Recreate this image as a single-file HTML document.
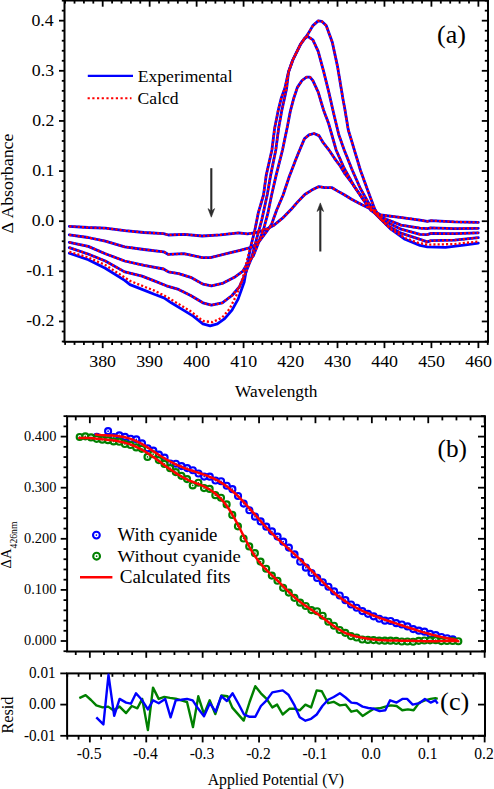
<!DOCTYPE html>
<html><head><meta charset="utf-8"><style>
html,body{margin:0;padding:0;background:#fff;}
body{width:494px;height:789px;overflow:hidden;}
svg{display:block;font-family:"Liberation Serif",serif;}
text{font-family:"Liberation Serif",serif;}
</style></head><body>
<svg width="494" height="789" viewBox="0 0 494 789" fill="#000">
<rect x="64.5" y="0.5" width="423.50" height="341.30" fill="none" stroke="#000" stroke-width="2"/>
<line x1="65.13" y1="341.80" x2="65.13" y2="344.90" stroke="#000" stroke-width="1.8" />
<line x1="65.13" y1="0.50" x2="65.13" y2="3.60" stroke="#000" stroke-width="1.8" />
<line x1="74.52" y1="341.80" x2="74.52" y2="344.90" stroke="#000" stroke-width="1.8" />
<line x1="74.52" y1="0.50" x2="74.52" y2="3.60" stroke="#000" stroke-width="1.8" />
<line x1="83.92" y1="341.80" x2="83.92" y2="344.90" stroke="#000" stroke-width="1.8" />
<line x1="83.92" y1="0.50" x2="83.92" y2="3.60" stroke="#000" stroke-width="1.8" />
<line x1="93.31" y1="341.80" x2="93.31" y2="344.90" stroke="#000" stroke-width="1.8" />
<line x1="93.31" y1="0.50" x2="93.31" y2="3.60" stroke="#000" stroke-width="1.8" />
<line x1="102.70" y1="341.80" x2="102.70" y2="348.10" stroke="#000" stroke-width="1.8" />
<line x1="102.70" y1="0.50" x2="102.70" y2="6.70" stroke="#000" stroke-width="1.8" />
<line x1="112.09" y1="341.80" x2="112.09" y2="344.90" stroke="#000" stroke-width="1.8" />
<line x1="112.09" y1="0.50" x2="112.09" y2="3.60" stroke="#000" stroke-width="1.8" />
<line x1="121.48" y1="341.80" x2="121.48" y2="344.90" stroke="#000" stroke-width="1.8" />
<line x1="121.48" y1="0.50" x2="121.48" y2="3.60" stroke="#000" stroke-width="1.8" />
<line x1="130.88" y1="341.80" x2="130.88" y2="344.90" stroke="#000" stroke-width="1.8" />
<line x1="130.88" y1="0.50" x2="130.88" y2="3.60" stroke="#000" stroke-width="1.8" />
<line x1="140.27" y1="341.80" x2="140.27" y2="344.90" stroke="#000" stroke-width="1.8" />
<line x1="140.27" y1="0.50" x2="140.27" y2="3.60" stroke="#000" stroke-width="1.8" />
<line x1="149.66" y1="341.80" x2="149.66" y2="348.10" stroke="#000" stroke-width="1.8" />
<line x1="149.66" y1="0.50" x2="149.66" y2="6.70" stroke="#000" stroke-width="1.8" />
<line x1="159.05" y1="341.80" x2="159.05" y2="344.90" stroke="#000" stroke-width="1.8" />
<line x1="159.05" y1="0.50" x2="159.05" y2="3.60" stroke="#000" stroke-width="1.8" />
<line x1="168.44" y1="341.80" x2="168.44" y2="344.90" stroke="#000" stroke-width="1.8" />
<line x1="168.44" y1="0.50" x2="168.44" y2="3.60" stroke="#000" stroke-width="1.8" />
<line x1="177.84" y1="341.80" x2="177.84" y2="344.90" stroke="#000" stroke-width="1.8" />
<line x1="177.84" y1="0.50" x2="177.84" y2="3.60" stroke="#000" stroke-width="1.8" />
<line x1="187.23" y1="341.80" x2="187.23" y2="344.90" stroke="#000" stroke-width="1.8" />
<line x1="187.23" y1="0.50" x2="187.23" y2="3.60" stroke="#000" stroke-width="1.8" />
<line x1="196.62" y1="341.80" x2="196.62" y2="348.10" stroke="#000" stroke-width="1.8" />
<line x1="196.62" y1="0.50" x2="196.62" y2="6.70" stroke="#000" stroke-width="1.8" />
<line x1="206.01" y1="341.80" x2="206.01" y2="344.90" stroke="#000" stroke-width="1.8" />
<line x1="206.01" y1="0.50" x2="206.01" y2="3.60" stroke="#000" stroke-width="1.8" />
<line x1="215.40" y1="341.80" x2="215.40" y2="344.90" stroke="#000" stroke-width="1.8" />
<line x1="215.40" y1="0.50" x2="215.40" y2="3.60" stroke="#000" stroke-width="1.8" />
<line x1="224.80" y1="341.80" x2="224.80" y2="344.90" stroke="#000" stroke-width="1.8" />
<line x1="224.80" y1="0.50" x2="224.80" y2="3.60" stroke="#000" stroke-width="1.8" />
<line x1="234.19" y1="341.80" x2="234.19" y2="344.90" stroke="#000" stroke-width="1.8" />
<line x1="234.19" y1="0.50" x2="234.19" y2="3.60" stroke="#000" stroke-width="1.8" />
<line x1="243.58" y1="341.80" x2="243.58" y2="348.10" stroke="#000" stroke-width="1.8" />
<line x1="243.58" y1="0.50" x2="243.58" y2="6.70" stroke="#000" stroke-width="1.8" />
<line x1="252.97" y1="341.80" x2="252.97" y2="344.90" stroke="#000" stroke-width="1.8" />
<line x1="252.97" y1="0.50" x2="252.97" y2="3.60" stroke="#000" stroke-width="1.8" />
<line x1="262.36" y1="341.80" x2="262.36" y2="344.90" stroke="#000" stroke-width="1.8" />
<line x1="262.36" y1="0.50" x2="262.36" y2="3.60" stroke="#000" stroke-width="1.8" />
<line x1="271.76" y1="341.80" x2="271.76" y2="344.90" stroke="#000" stroke-width="1.8" />
<line x1="271.76" y1="0.50" x2="271.76" y2="3.60" stroke="#000" stroke-width="1.8" />
<line x1="281.15" y1="341.80" x2="281.15" y2="344.90" stroke="#000" stroke-width="1.8" />
<line x1="281.15" y1="0.50" x2="281.15" y2="3.60" stroke="#000" stroke-width="1.8" />
<line x1="290.54" y1="341.80" x2="290.54" y2="348.10" stroke="#000" stroke-width="1.8" />
<line x1="290.54" y1="0.50" x2="290.54" y2="6.70" stroke="#000" stroke-width="1.8" />
<line x1="299.93" y1="341.80" x2="299.93" y2="344.90" stroke="#000" stroke-width="1.8" />
<line x1="299.93" y1="0.50" x2="299.93" y2="3.60" stroke="#000" stroke-width="1.8" />
<line x1="309.32" y1="341.80" x2="309.32" y2="344.90" stroke="#000" stroke-width="1.8" />
<line x1="309.32" y1="0.50" x2="309.32" y2="3.60" stroke="#000" stroke-width="1.8" />
<line x1="318.72" y1="341.80" x2="318.72" y2="344.90" stroke="#000" stroke-width="1.8" />
<line x1="318.72" y1="0.50" x2="318.72" y2="3.60" stroke="#000" stroke-width="1.8" />
<line x1="328.11" y1="341.80" x2="328.11" y2="344.90" stroke="#000" stroke-width="1.8" />
<line x1="328.11" y1="0.50" x2="328.11" y2="3.60" stroke="#000" stroke-width="1.8" />
<line x1="337.50" y1="341.80" x2="337.50" y2="348.10" stroke="#000" stroke-width="1.8" />
<line x1="337.50" y1="0.50" x2="337.50" y2="6.70" stroke="#000" stroke-width="1.8" />
<line x1="346.89" y1="341.80" x2="346.89" y2="344.90" stroke="#000" stroke-width="1.8" />
<line x1="346.89" y1="0.50" x2="346.89" y2="3.60" stroke="#000" stroke-width="1.8" />
<line x1="356.28" y1="341.80" x2="356.28" y2="344.90" stroke="#000" stroke-width="1.8" />
<line x1="356.28" y1="0.50" x2="356.28" y2="3.60" stroke="#000" stroke-width="1.8" />
<line x1="365.68" y1="341.80" x2="365.68" y2="344.90" stroke="#000" stroke-width="1.8" />
<line x1="365.68" y1="0.50" x2="365.68" y2="3.60" stroke="#000" stroke-width="1.8" />
<line x1="375.07" y1="341.80" x2="375.07" y2="344.90" stroke="#000" stroke-width="1.8" />
<line x1="375.07" y1="0.50" x2="375.07" y2="3.60" stroke="#000" stroke-width="1.8" />
<line x1="384.46" y1="341.80" x2="384.46" y2="348.10" stroke="#000" stroke-width="1.8" />
<line x1="384.46" y1="0.50" x2="384.46" y2="6.70" stroke="#000" stroke-width="1.8" />
<line x1="393.85" y1="341.80" x2="393.85" y2="344.90" stroke="#000" stroke-width="1.8" />
<line x1="393.85" y1="0.50" x2="393.85" y2="3.60" stroke="#000" stroke-width="1.8" />
<line x1="403.24" y1="341.80" x2="403.24" y2="344.90" stroke="#000" stroke-width="1.8" />
<line x1="403.24" y1="0.50" x2="403.24" y2="3.60" stroke="#000" stroke-width="1.8" />
<line x1="412.64" y1="341.80" x2="412.64" y2="344.90" stroke="#000" stroke-width="1.8" />
<line x1="412.64" y1="0.50" x2="412.64" y2="3.60" stroke="#000" stroke-width="1.8" />
<line x1="422.03" y1="341.80" x2="422.03" y2="344.90" stroke="#000" stroke-width="1.8" />
<line x1="422.03" y1="0.50" x2="422.03" y2="3.60" stroke="#000" stroke-width="1.8" />
<line x1="431.42" y1="341.80" x2="431.42" y2="348.10" stroke="#000" stroke-width="1.8" />
<line x1="431.42" y1="0.50" x2="431.42" y2="6.70" stroke="#000" stroke-width="1.8" />
<line x1="440.81" y1="341.80" x2="440.81" y2="344.90" stroke="#000" stroke-width="1.8" />
<line x1="440.81" y1="0.50" x2="440.81" y2="3.60" stroke="#000" stroke-width="1.8" />
<line x1="450.20" y1="341.80" x2="450.20" y2="344.90" stroke="#000" stroke-width="1.8" />
<line x1="450.20" y1="0.50" x2="450.20" y2="3.60" stroke="#000" stroke-width="1.8" />
<line x1="459.60" y1="341.80" x2="459.60" y2="344.90" stroke="#000" stroke-width="1.8" />
<line x1="459.60" y1="0.50" x2="459.60" y2="3.60" stroke="#000" stroke-width="1.8" />
<line x1="468.99" y1="341.80" x2="468.99" y2="344.90" stroke="#000" stroke-width="1.8" />
<line x1="468.99" y1="0.50" x2="468.99" y2="3.60" stroke="#000" stroke-width="1.8" />
<line x1="478.38" y1="341.80" x2="478.38" y2="348.10" stroke="#000" stroke-width="1.8" />
<line x1="478.38" y1="0.50" x2="478.38" y2="6.70" stroke="#000" stroke-width="1.8" />
<line x1="487.77" y1="341.80" x2="487.77" y2="344.90" stroke="#000" stroke-width="1.8" />
<line x1="487.77" y1="0.50" x2="487.77" y2="3.60" stroke="#000" stroke-width="1.8" />
<line x1="64.50" y1="341.51" x2="61.80" y2="341.51" stroke="#000" stroke-width="1.8" />
<line x1="488.00" y1="341.51" x2="484.80" y2="341.51" stroke="#000" stroke-width="1.8" />
<line x1="64.50" y1="331.49" x2="61.80" y2="331.49" stroke="#000" stroke-width="1.8" />
<line x1="488.00" y1="331.49" x2="484.80" y2="331.49" stroke="#000" stroke-width="1.8" />
<line x1="64.50" y1="321.46" x2="59.00" y2="321.46" stroke="#000" stroke-width="1.8" />
<line x1="488.00" y1="321.46" x2="481.80" y2="321.46" stroke="#000" stroke-width="1.8" />
<line x1="64.50" y1="311.43" x2="61.80" y2="311.43" stroke="#000" stroke-width="1.8" />
<line x1="488.00" y1="311.43" x2="484.80" y2="311.43" stroke="#000" stroke-width="1.8" />
<line x1="64.50" y1="301.41" x2="61.80" y2="301.41" stroke="#000" stroke-width="1.8" />
<line x1="488.00" y1="301.41" x2="484.80" y2="301.41" stroke="#000" stroke-width="1.8" />
<line x1="64.50" y1="291.38" x2="61.80" y2="291.38" stroke="#000" stroke-width="1.8" />
<line x1="488.00" y1="291.38" x2="484.80" y2="291.38" stroke="#000" stroke-width="1.8" />
<line x1="64.50" y1="281.36" x2="61.80" y2="281.36" stroke="#000" stroke-width="1.8" />
<line x1="488.00" y1="281.36" x2="484.80" y2="281.36" stroke="#000" stroke-width="1.8" />
<line x1="64.50" y1="271.33" x2="59.00" y2="271.33" stroke="#000" stroke-width="1.8" />
<line x1="488.00" y1="271.33" x2="481.80" y2="271.33" stroke="#000" stroke-width="1.8" />
<line x1="64.50" y1="261.30" x2="61.80" y2="261.30" stroke="#000" stroke-width="1.8" />
<line x1="488.00" y1="261.30" x2="484.80" y2="261.30" stroke="#000" stroke-width="1.8" />
<line x1="64.50" y1="251.28" x2="61.80" y2="251.28" stroke="#000" stroke-width="1.8" />
<line x1="488.00" y1="251.28" x2="484.80" y2="251.28" stroke="#000" stroke-width="1.8" />
<line x1="64.50" y1="241.25" x2="61.80" y2="241.25" stroke="#000" stroke-width="1.8" />
<line x1="488.00" y1="241.25" x2="484.80" y2="241.25" stroke="#000" stroke-width="1.8" />
<line x1="64.50" y1="231.23" x2="61.80" y2="231.23" stroke="#000" stroke-width="1.8" />
<line x1="488.00" y1="231.23" x2="484.80" y2="231.23" stroke="#000" stroke-width="1.8" />
<line x1="64.50" y1="221.20" x2="59.00" y2="221.20" stroke="#000" stroke-width="1.8" />
<line x1="488.00" y1="221.20" x2="481.80" y2="221.20" stroke="#000" stroke-width="1.8" />
<line x1="64.50" y1="211.17" x2="61.80" y2="211.17" stroke="#000" stroke-width="1.8" />
<line x1="488.00" y1="211.17" x2="484.80" y2="211.17" stroke="#000" stroke-width="1.8" />
<line x1="64.50" y1="201.15" x2="61.80" y2="201.15" stroke="#000" stroke-width="1.8" />
<line x1="488.00" y1="201.15" x2="484.80" y2="201.15" stroke="#000" stroke-width="1.8" />
<line x1="64.50" y1="191.12" x2="61.80" y2="191.12" stroke="#000" stroke-width="1.8" />
<line x1="488.00" y1="191.12" x2="484.80" y2="191.12" stroke="#000" stroke-width="1.8" />
<line x1="64.50" y1="181.10" x2="61.80" y2="181.10" stroke="#000" stroke-width="1.8" />
<line x1="488.00" y1="181.10" x2="484.80" y2="181.10" stroke="#000" stroke-width="1.8" />
<line x1="64.50" y1="171.07" x2="59.00" y2="171.07" stroke="#000" stroke-width="1.8" />
<line x1="488.00" y1="171.07" x2="481.80" y2="171.07" stroke="#000" stroke-width="1.8" />
<line x1="64.50" y1="161.04" x2="61.80" y2="161.04" stroke="#000" stroke-width="1.8" />
<line x1="488.00" y1="161.04" x2="484.80" y2="161.04" stroke="#000" stroke-width="1.8" />
<line x1="64.50" y1="151.02" x2="61.80" y2="151.02" stroke="#000" stroke-width="1.8" />
<line x1="488.00" y1="151.02" x2="484.80" y2="151.02" stroke="#000" stroke-width="1.8" />
<line x1="64.50" y1="140.99" x2="61.80" y2="140.99" stroke="#000" stroke-width="1.8" />
<line x1="488.00" y1="140.99" x2="484.80" y2="140.99" stroke="#000" stroke-width="1.8" />
<line x1="64.50" y1="130.97" x2="61.80" y2="130.97" stroke="#000" stroke-width="1.8" />
<line x1="488.00" y1="130.97" x2="484.80" y2="130.97" stroke="#000" stroke-width="1.8" />
<line x1="64.50" y1="120.94" x2="59.00" y2="120.94" stroke="#000" stroke-width="1.8" />
<line x1="488.00" y1="120.94" x2="481.80" y2="120.94" stroke="#000" stroke-width="1.8" />
<line x1="64.50" y1="110.91" x2="61.80" y2="110.91" stroke="#000" stroke-width="1.8" />
<line x1="488.00" y1="110.91" x2="484.80" y2="110.91" stroke="#000" stroke-width="1.8" />
<line x1="64.50" y1="100.89" x2="61.80" y2="100.89" stroke="#000" stroke-width="1.8" />
<line x1="488.00" y1="100.89" x2="484.80" y2="100.89" stroke="#000" stroke-width="1.8" />
<line x1="64.50" y1="90.86" x2="61.80" y2="90.86" stroke="#000" stroke-width="1.8" />
<line x1="488.00" y1="90.86" x2="484.80" y2="90.86" stroke="#000" stroke-width="1.8" />
<line x1="64.50" y1="80.84" x2="61.80" y2="80.84" stroke="#000" stroke-width="1.8" />
<line x1="488.00" y1="80.84" x2="484.80" y2="80.84" stroke="#000" stroke-width="1.8" />
<line x1="64.50" y1="70.81" x2="59.00" y2="70.81" stroke="#000" stroke-width="1.8" />
<line x1="488.00" y1="70.81" x2="481.80" y2="70.81" stroke="#000" stroke-width="1.8" />
<line x1="64.50" y1="60.78" x2="61.80" y2="60.78" stroke="#000" stroke-width="1.8" />
<line x1="488.00" y1="60.78" x2="484.80" y2="60.78" stroke="#000" stroke-width="1.8" />
<line x1="64.50" y1="50.76" x2="61.80" y2="50.76" stroke="#000" stroke-width="1.8" />
<line x1="488.00" y1="50.76" x2="484.80" y2="50.76" stroke="#000" stroke-width="1.8" />
<line x1="64.50" y1="40.73" x2="61.80" y2="40.73" stroke="#000" stroke-width="1.8" />
<line x1="488.00" y1="40.73" x2="484.80" y2="40.73" stroke="#000" stroke-width="1.8" />
<line x1="64.50" y1="30.71" x2="61.80" y2="30.71" stroke="#000" stroke-width="1.8" />
<line x1="488.00" y1="30.71" x2="484.80" y2="30.71" stroke="#000" stroke-width="1.8" />
<line x1="64.50" y1="20.68" x2="59.00" y2="20.68" stroke="#000" stroke-width="1.8" />
<line x1="488.00" y1="20.68" x2="481.80" y2="20.68" stroke="#000" stroke-width="1.8" />
<line x1="64.50" y1="10.65" x2="61.80" y2="10.65" stroke="#000" stroke-width="1.8" />
<line x1="488.00" y1="10.65" x2="484.80" y2="10.65" stroke="#000" stroke-width="1.8" />
<line x1="64.50" y1="0.63" x2="61.80" y2="0.63" stroke="#000" stroke-width="1.8" />
<line x1="488.00" y1="0.63" x2="484.80" y2="0.63" stroke="#000" stroke-width="1.8" />
<text transform="translate(89.19,366.50) scale(1,0.880)" font-size="17.90" text-anchor="start">380</text>
<text transform="translate(136.15,366.50) scale(1,0.880)" font-size="17.90" text-anchor="start">390</text>
<text transform="translate(183.37,366.50) scale(1,0.880)" font-size="17.90" text-anchor="start">400</text>
<text transform="translate(230.33,366.50) scale(1,0.880)" font-size="17.90" text-anchor="start">410</text>
<text transform="translate(277.29,366.50) scale(1,0.880)" font-size="17.90" text-anchor="start">420</text>
<text transform="translate(324.25,366.50) scale(1,0.880)" font-size="17.90" text-anchor="start">430</text>
<text transform="translate(371.21,366.50) scale(1,0.880)" font-size="17.90" text-anchor="start">440</text>
<text transform="translate(418.17,366.50) scale(1,0.880)" font-size="17.90" text-anchor="start">450</text>
<text transform="translate(465.13,366.50) scale(1,0.880)" font-size="17.90" text-anchor="start">460</text>
<text transform="translate(26.17,326.46) scale(1,0.890)" font-size="17.80" text-anchor="start">-0.2</text>
<text transform="translate(26.25,276.33) scale(1,0.890)" font-size="17.80" text-anchor="start">-0.1</text>
<text transform="translate(31.86,226.20) scale(1,0.890)" font-size="17.80" text-anchor="start">0.0</text>
<text transform="translate(32.22,176.07) scale(1,0.890)" font-size="17.80" text-anchor="start">0.1</text>
<text transform="translate(32.13,125.94) scale(1,0.890)" font-size="17.80" text-anchor="start">0.2</text>
<text transform="translate(31.86,75.81) scale(1,0.890)" font-size="17.80" text-anchor="start">0.3</text>
<text transform="translate(31.42,25.68) scale(1,0.890)" font-size="17.80" text-anchor="start">0.4</text>
<text transform="translate(235.10,396.70) scale(1,0.930)" font-size="17.35" text-anchor="start">Wavelength</text>
<text transform="translate(12.80,233.51) rotate(-90) scale(1,0.930)" font-size="17.80" text-anchor="start">&#916; Absorbance</text>
<text transform="translate(437.03,42.81)" font-size="26.00" text-anchor="start">(a)</text>
<line x1="87.80" y1="75.90" x2="133.00" y2="75.90" stroke="#0000ff" stroke-width="2.4" />
<line x1="87.60" y1="98.20" x2="131.50" y2="98.20" stroke="#ff0000" stroke-width="2.1" stroke-dasharray="2.2,2.5"/>
<text transform="translate(137.77,82.00) scale(1,0.940)" font-size="17.60" text-anchor="start">Experimental</text>
<text transform="translate(137.60,103.70) scale(1,0.940)" font-size="17.60" text-anchor="start">Calcd</text>
<polyline points="69.30,226.30 88.00,227.50 105.30,228.20 124.70,230.60 144.00,232.50 163.60,233.60 168.40,235.00 184.00,234.30 202.30,236.00 220.50,234.80 238.70,232.80 247.30,233.90 255.80,232.70 264.30,230.20 274.00,225.20 282.50,218.20 291.00,209.60 297.00,202.60 304.80,194.50 311.80,190.10 318.90,186.60 324.60,187.70 332.10,187.70 337.30,190.90 344.30,194.80 352.00,199.50 360.50,203.90 368.60,207.90 380.70,215.00 400.00,217.30 420.00,220.10 427.30,221.30 431.00,220.60 454.60,221.90 478.30,222.40" fill="none" stroke="#0000ff" stroke-width="2.8" stroke-linejoin="round" stroke-linecap="round" />
<polyline points="69.30,234.80 88.00,237.50 105.30,241.10 124.70,246.90 144.00,249.50 163.60,251.80 168.40,254.40 184.00,253.70 202.30,257.70 210.40,257.70 230.60,252.60 240.00,250.30 252.10,247.20 259.40,241.20 266.70,231.40 271.60,224.20 276.40,210.80 283.10,195.00 289.20,176.70 296.30,158.30 299.70,150.00 304.50,138.60 309.00,134.90 314.00,133.50 318.90,135.60 323.20,142.70 328.80,149.80 334.50,158.30 340.20,166.00 345.00,174.00 352.40,183.60 362.50,198.80 370.60,210.00 380.70,217.00 401.00,225.10 420.00,228.20 427.30,228.60 431.00,227.90 454.60,228.60 478.30,228.30" fill="none" stroke="#0000ff" stroke-width="2.8" stroke-linejoin="round" stroke-linecap="round" />
<polyline points="69.30,242.30 88.30,246.40 105.30,253.70 124.70,261.00 144.20,265.40 163.60,269.00 168.40,271.90 178.60,273.60 190.70,277.30 202.90,284.10 211.40,285.80 222.30,283.40 234.40,277.30 242.90,271.20 247.00,264.00 253.40,255.70 258.20,243.60 263.70,229.00 267.90,213.20 271.60,195.00 276.10,175.40 282.50,150.00 287.00,128.50 290.30,111.40 293.60,98.80 297.40,87.40 302.00,80.50 306.50,77.10 310.00,77.10 312.90,80.70 318.20,92.20 323.50,109.90 328.80,124.10 333.30,140.00 336.20,150.20 344.30,168.50 354.40,186.70 364.50,200.90 372.60,211.00 380.70,219.10 401.00,229.20 420.00,234.30 427.30,234.60 431.00,233.40 454.60,233.70 478.30,232.80" fill="none" stroke="#0000ff" stroke-width="2.8" stroke-linejoin="round" stroke-linecap="round" />
<polyline points="69.30,247.60 88.00,254.00 105.30,261.00 124.70,271.90 142.10,276.10 154.30,280.90 166.40,285.80 178.60,289.40 190.70,295.50 202.90,302.80 211.40,305.20 222.30,302.80 232.00,295.50 239.30,287.00 245.40,273.60 248.80,264.80 251.50,258.20 257.00,237.50 261.90,219.30 267.20,195.00 270.60,175.40 275.80,150.00 278.60,128.50 281.60,111.40 284.60,97.70 286.60,88.50 288.50,72.00 292.80,60.00 300.50,44.30 304.50,38.50 307.60,36.30 312.90,39.90 318.20,51.40 323.50,70.90 328.80,92.20 334.10,115.20 338.90,135.00 344.30,150.20 352.40,170.50 360.50,188.70 368.60,202.90 376.70,215.00 386.80,225.10 401.00,233.20 420.00,239.30 427.30,241.90 431.00,240.60 454.60,240.10 478.30,237.70" fill="none" stroke="#0000ff" stroke-width="2.8" stroke-linejoin="round" stroke-linecap="round" />
<polyline points="69.30,253.20 88.30,259.80 105.30,268.30 124.70,280.40 130.00,284.60 142.10,289.40 154.30,294.30 164.00,297.90 171.30,302.80 183.40,310.10 193.20,316.10 202.90,323.90 210.20,325.90 217.40,323.90 224.70,318.60 232.00,310.10 238.10,299.10 244.20,282.10 247.30,264.00 250.90,246.00 254.60,231.40 258.20,213.20 263.50,195.00 266.20,175.40 271.90,150.00 274.60,128.50 278.00,111.40 281.40,97.70 284.80,88.50 288.50,72.00 292.80,60.00 300.50,44.30 307.60,34.60 312.90,25.60 318.20,20.90 321.70,21.30 326.20,25.60 332.40,42.60 337.70,67.40 343.00,99.30 345.00,110.00 348.30,130.00 354.40,150.20 360.50,170.50 368.60,192.80 374.70,209.00 380.70,219.10 390.90,229.20 405.00,239.30 420.00,245.40 427.30,246.80 445.50,247.40 463.80,245.20 478.30,243.20" fill="none" stroke="#0000ff" stroke-width="2.8" stroke-linejoin="round" stroke-linecap="round" />
<polyline points="69.30,226.30 88.00,227.50 105.30,228.20 124.70,230.60 144.00,232.50 163.60,233.60 168.40,235.00 184.00,234.30 202.30,236.00 220.50,234.80 238.70,232.80 247.30,233.90 255.80,232.70 264.30,230.20 274.00,225.20 282.50,218.20 291.00,209.60 297.00,202.60 304.80,194.50 311.80,190.10 318.90,186.60 324.60,187.70 332.10,187.70 337.30,190.90 344.30,194.80 352.00,199.50 360.50,203.90 368.60,207.90 380.70,215.00 400.00,217.30 420.00,220.10 427.30,221.30 431.00,220.60 454.60,221.90 478.30,222.40" fill="none" stroke="#ff0000" stroke-width="2.3" stroke-linejoin="round" stroke-linecap="butt" stroke-dasharray="2.1,2.1"/>
<polyline points="69.30,234.80 88.00,237.50 105.30,241.10 124.70,246.90 144.00,249.50 163.60,251.80 168.40,254.40 184.00,253.70 202.30,257.70 210.40,257.70 230.60,252.60 240.00,250.30 252.10,247.20 259.40,241.20 266.70,231.40 271.60,224.20 276.40,210.80 283.10,195.00 289.20,176.70 296.30,158.30 299.70,150.00 304.50,138.60 309.00,134.90 314.00,133.50 318.90,135.60 323.20,142.70 328.80,149.80 334.50,158.30 340.20,166.00 345.00,174.00 352.40,183.60 362.50,198.80 370.60,210.00 380.70,217.00 401.00,225.10 420.00,228.20 427.30,228.60 431.00,227.90 454.60,228.60 478.30,228.30" fill="none" stroke="#ff0000" stroke-width="2.3" stroke-linejoin="round" stroke-linecap="butt" stroke-dasharray="2.1,2.1"/>
<polyline points="69.30,242.30 88.30,246.40 105.30,253.70 124.70,261.00 144.20,265.40 163.60,269.00 168.40,271.90 178.60,273.60 190.70,277.30 202.90,284.10 211.40,285.80 222.30,283.40 234.40,277.30 242.90,271.20 247.00,264.00 253.40,255.70 258.20,243.60 263.70,229.00 267.90,213.20 271.60,195.00 276.10,175.40 282.50,150.00 287.00,128.50 290.30,111.40 293.60,98.80 297.40,87.40 302.00,80.50 306.50,77.10 310.00,77.10 312.90,80.70 318.20,92.20 323.50,109.90 328.80,124.10 333.30,140.00 336.20,150.20 344.30,168.50 354.40,186.70 364.50,200.90 372.60,211.00 380.70,219.10 401.00,229.20 420.00,234.30 427.30,234.60 431.00,233.40 454.60,233.70 478.30,232.80" fill="none" stroke="#ff0000" stroke-width="2.3" stroke-linejoin="round" stroke-linecap="butt" stroke-dasharray="2.1,2.1"/>
<polyline points="69.30,247.60 88.00,254.00 105.30,261.00 124.70,271.90 142.10,276.10 154.30,280.90 166.40,285.80 178.60,289.40 190.70,295.50 202.90,302.80 211.40,305.20 222.30,302.80 232.00,295.50 239.30,287.00 245.40,273.60 248.80,264.80 251.50,258.20 257.00,237.50 261.90,219.30 267.20,195.00 270.60,175.40 275.80,150.00 278.60,128.50 281.60,111.40 284.60,97.70 286.60,88.50 288.50,72.00 292.80,60.00 300.50,44.30 304.50,38.50 307.60,36.30 312.90,39.90 318.20,51.40 323.50,70.90 328.80,92.20 334.10,115.20 338.90,135.00 344.30,150.20 352.40,170.50 360.50,188.70 368.60,202.90 376.70,215.00 386.80,225.10 401.00,233.20 420.00,239.30 427.30,241.90 431.00,240.60 454.60,240.10 478.30,237.70" fill="none" stroke="#ff0000" stroke-width="2.3" stroke-linejoin="round" stroke-linecap="butt" stroke-dasharray="2.1,2.1"/>
<polyline points="69.30,251.80 88.30,257.50 105.30,265.00 124.70,277.50 130.00,280.90 142.10,285.80 154.30,290.60 166.40,296.70 178.60,304.00 190.70,311.30 202.90,321.00 212.60,322.20 222.30,317.40 229.60,308.90 236.90,294.30 242.90,277.30 246.50,262.00 250.90,246.00 254.60,231.40 258.20,213.20 263.50,195.00 266.20,175.40 271.90,150.00 274.60,128.50 278.00,111.40 281.40,97.70 284.80,88.50 288.50,72.00 292.80,60.00 300.50,44.30 307.60,34.60 312.90,25.60 318.20,20.90 321.70,21.30 326.20,25.60 332.40,42.60 337.70,67.40 343.00,99.30 345.00,110.00 348.30,130.00 354.40,150.20 360.50,170.50 368.60,192.80 374.70,209.00 380.70,219.10 390.90,229.20 405.00,238.00 418.20,242.80 427.30,244.60 454.60,244.10 478.30,241.50" fill="none" stroke="#ff0000" stroke-width="2.3" stroke-linejoin="round" stroke-linecap="butt" stroke-dasharray="2.1,2.1"/>
<line x1="211.30" y1="168.20" x2="211.30" y2="211.20" stroke="#2a2a2a" stroke-width="2.1" />
<path d="M211.30,217.20 L208.00,208.60 L211.30,211.20 L214.60,208.60 Z" fill="#2a2a2a" stroke="#2a2a2a" stroke-width="0.6" stroke-linejoin="round"/>
<line x1="320.30" y1="251.50" x2="320.30" y2="208.90" stroke="#2a2a2a" stroke-width="2.1" />
<path d="M320.30,202.90 L317.00,211.50 L320.30,208.90 L323.60,211.50 Z" fill="#2a2a2a" stroke="#2a2a2a" stroke-width="0.6" stroke-linejoin="round"/>
<rect x="67.1" y="416.3" width="417.90" height="235.20" fill="none" stroke="#000" stroke-width="2"/>
<line x1="75.75" y1="651.50" x2="75.75" y2="655.00" stroke="#000" stroke-width="1.8" />
<line x1="75.75" y1="416.30" x2="75.75" y2="420.40" stroke="#000" stroke-width="1.8" />
<line x1="89.85" y1="651.50" x2="89.85" y2="657.80" stroke="#000" stroke-width="1.8" />
<line x1="89.85" y1="416.30" x2="89.85" y2="423.20" stroke="#000" stroke-width="1.8" />
<line x1="103.95" y1="651.50" x2="103.95" y2="655.00" stroke="#000" stroke-width="1.8" />
<line x1="103.95" y1="416.30" x2="103.95" y2="420.40" stroke="#000" stroke-width="1.8" />
<line x1="118.05" y1="651.50" x2="118.05" y2="655.00" stroke="#000" stroke-width="1.8" />
<line x1="118.05" y1="416.30" x2="118.05" y2="420.40" stroke="#000" stroke-width="1.8" />
<line x1="132.15" y1="651.50" x2="132.15" y2="655.00" stroke="#000" stroke-width="1.8" />
<line x1="132.15" y1="416.30" x2="132.15" y2="420.40" stroke="#000" stroke-width="1.8" />
<line x1="146.25" y1="651.50" x2="146.25" y2="657.80" stroke="#000" stroke-width="1.8" />
<line x1="146.25" y1="416.30" x2="146.25" y2="423.20" stroke="#000" stroke-width="1.8" />
<line x1="160.35" y1="651.50" x2="160.35" y2="655.00" stroke="#000" stroke-width="1.8" />
<line x1="160.35" y1="416.30" x2="160.35" y2="420.40" stroke="#000" stroke-width="1.8" />
<line x1="174.45" y1="651.50" x2="174.45" y2="655.00" stroke="#000" stroke-width="1.8" />
<line x1="174.45" y1="416.30" x2="174.45" y2="420.40" stroke="#000" stroke-width="1.8" />
<line x1="188.55" y1="651.50" x2="188.55" y2="655.00" stroke="#000" stroke-width="1.8" />
<line x1="188.55" y1="416.30" x2="188.55" y2="420.40" stroke="#000" stroke-width="1.8" />
<line x1="202.65" y1="651.50" x2="202.65" y2="657.80" stroke="#000" stroke-width="1.8" />
<line x1="202.65" y1="416.30" x2="202.65" y2="423.20" stroke="#000" stroke-width="1.8" />
<line x1="216.75" y1="651.50" x2="216.75" y2="655.00" stroke="#000" stroke-width="1.8" />
<line x1="216.75" y1="416.30" x2="216.75" y2="420.40" stroke="#000" stroke-width="1.8" />
<line x1="230.85" y1="651.50" x2="230.85" y2="655.00" stroke="#000" stroke-width="1.8" />
<line x1="230.85" y1="416.30" x2="230.85" y2="420.40" stroke="#000" stroke-width="1.8" />
<line x1="244.95" y1="651.50" x2="244.95" y2="655.00" stroke="#000" stroke-width="1.8" />
<line x1="244.95" y1="416.30" x2="244.95" y2="420.40" stroke="#000" stroke-width="1.8" />
<line x1="259.05" y1="651.50" x2="259.05" y2="657.80" stroke="#000" stroke-width="1.8" />
<line x1="259.05" y1="416.30" x2="259.05" y2="423.20" stroke="#000" stroke-width="1.8" />
<line x1="273.15" y1="651.50" x2="273.15" y2="655.00" stroke="#000" stroke-width="1.8" />
<line x1="273.15" y1="416.30" x2="273.15" y2="420.40" stroke="#000" stroke-width="1.8" />
<line x1="287.25" y1="651.50" x2="287.25" y2="655.00" stroke="#000" stroke-width="1.8" />
<line x1="287.25" y1="416.30" x2="287.25" y2="420.40" stroke="#000" stroke-width="1.8" />
<line x1="301.35" y1="651.50" x2="301.35" y2="655.00" stroke="#000" stroke-width="1.8" />
<line x1="301.35" y1="416.30" x2="301.35" y2="420.40" stroke="#000" stroke-width="1.8" />
<line x1="315.45" y1="651.50" x2="315.45" y2="657.80" stroke="#000" stroke-width="1.8" />
<line x1="315.45" y1="416.30" x2="315.45" y2="423.20" stroke="#000" stroke-width="1.8" />
<line x1="329.55" y1="651.50" x2="329.55" y2="655.00" stroke="#000" stroke-width="1.8" />
<line x1="329.55" y1="416.30" x2="329.55" y2="420.40" stroke="#000" stroke-width="1.8" />
<line x1="343.65" y1="651.50" x2="343.65" y2="655.00" stroke="#000" stroke-width="1.8" />
<line x1="343.65" y1="416.30" x2="343.65" y2="420.40" stroke="#000" stroke-width="1.8" />
<line x1="357.75" y1="651.50" x2="357.75" y2="655.00" stroke="#000" stroke-width="1.8" />
<line x1="357.75" y1="416.30" x2="357.75" y2="420.40" stroke="#000" stroke-width="1.8" />
<line x1="371.85" y1="651.50" x2="371.85" y2="657.80" stroke="#000" stroke-width="1.8" />
<line x1="371.85" y1="416.30" x2="371.85" y2="423.20" stroke="#000" stroke-width="1.8" />
<line x1="385.95" y1="651.50" x2="385.95" y2="655.00" stroke="#000" stroke-width="1.8" />
<line x1="385.95" y1="416.30" x2="385.95" y2="420.40" stroke="#000" stroke-width="1.8" />
<line x1="400.05" y1="651.50" x2="400.05" y2="655.00" stroke="#000" stroke-width="1.8" />
<line x1="400.05" y1="416.30" x2="400.05" y2="420.40" stroke="#000" stroke-width="1.8" />
<line x1="414.15" y1="651.50" x2="414.15" y2="655.00" stroke="#000" stroke-width="1.8" />
<line x1="414.15" y1="416.30" x2="414.15" y2="420.40" stroke="#000" stroke-width="1.8" />
<line x1="428.25" y1="651.50" x2="428.25" y2="657.80" stroke="#000" stroke-width="1.8" />
<line x1="428.25" y1="416.30" x2="428.25" y2="423.20" stroke="#000" stroke-width="1.8" />
<line x1="442.35" y1="651.50" x2="442.35" y2="655.00" stroke="#000" stroke-width="1.8" />
<line x1="442.35" y1="416.30" x2="442.35" y2="420.40" stroke="#000" stroke-width="1.8" />
<line x1="456.45" y1="651.50" x2="456.45" y2="655.00" stroke="#000" stroke-width="1.8" />
<line x1="456.45" y1="416.30" x2="456.45" y2="420.40" stroke="#000" stroke-width="1.8" />
<line x1="470.55" y1="651.50" x2="470.55" y2="655.00" stroke="#000" stroke-width="1.8" />
<line x1="470.55" y1="416.30" x2="470.55" y2="420.40" stroke="#000" stroke-width="1.8" />
<line x1="484.65" y1="651.50" x2="484.65" y2="657.80" stroke="#000" stroke-width="1.8" />
<line x1="484.65" y1="416.30" x2="484.65" y2="423.20" stroke="#000" stroke-width="1.8" />
<line x1="67.10" y1="651.22" x2="63.50" y2="651.22" stroke="#000" stroke-width="1.8" />
<line x1="485.00" y1="651.22" x2="481.00" y2="651.22" stroke="#000" stroke-width="1.8" />
<line x1="67.10" y1="641.00" x2="60.70" y2="641.00" stroke="#000" stroke-width="1.8" />
<line x1="485.00" y1="641.00" x2="478.00" y2="641.00" stroke="#000" stroke-width="1.8" />
<line x1="67.10" y1="630.78" x2="63.50" y2="630.78" stroke="#000" stroke-width="1.8" />
<line x1="485.00" y1="630.78" x2="481.00" y2="630.78" stroke="#000" stroke-width="1.8" />
<line x1="67.10" y1="620.56" x2="63.50" y2="620.56" stroke="#000" stroke-width="1.8" />
<line x1="485.00" y1="620.56" x2="481.00" y2="620.56" stroke="#000" stroke-width="1.8" />
<line x1="67.10" y1="610.34" x2="63.50" y2="610.34" stroke="#000" stroke-width="1.8" />
<line x1="485.00" y1="610.34" x2="481.00" y2="610.34" stroke="#000" stroke-width="1.8" />
<line x1="67.10" y1="600.12" x2="63.50" y2="600.12" stroke="#000" stroke-width="1.8" />
<line x1="485.00" y1="600.12" x2="481.00" y2="600.12" stroke="#000" stroke-width="1.8" />
<line x1="67.10" y1="589.90" x2="60.70" y2="589.90" stroke="#000" stroke-width="1.8" />
<line x1="485.00" y1="589.90" x2="478.00" y2="589.90" stroke="#000" stroke-width="1.8" />
<line x1="67.10" y1="579.68" x2="63.50" y2="579.68" stroke="#000" stroke-width="1.8" />
<line x1="485.00" y1="579.68" x2="481.00" y2="579.68" stroke="#000" stroke-width="1.8" />
<line x1="67.10" y1="569.46" x2="63.50" y2="569.46" stroke="#000" stroke-width="1.8" />
<line x1="485.00" y1="569.46" x2="481.00" y2="569.46" stroke="#000" stroke-width="1.8" />
<line x1="67.10" y1="559.24" x2="63.50" y2="559.24" stroke="#000" stroke-width="1.8" />
<line x1="485.00" y1="559.24" x2="481.00" y2="559.24" stroke="#000" stroke-width="1.8" />
<line x1="67.10" y1="549.02" x2="63.50" y2="549.02" stroke="#000" stroke-width="1.8" />
<line x1="485.00" y1="549.02" x2="481.00" y2="549.02" stroke="#000" stroke-width="1.8" />
<line x1="67.10" y1="538.80" x2="60.70" y2="538.80" stroke="#000" stroke-width="1.8" />
<line x1="485.00" y1="538.80" x2="478.00" y2="538.80" stroke="#000" stroke-width="1.8" />
<line x1="67.10" y1="528.58" x2="63.50" y2="528.58" stroke="#000" stroke-width="1.8" />
<line x1="485.00" y1="528.58" x2="481.00" y2="528.58" stroke="#000" stroke-width="1.8" />
<line x1="67.10" y1="518.36" x2="63.50" y2="518.36" stroke="#000" stroke-width="1.8" />
<line x1="485.00" y1="518.36" x2="481.00" y2="518.36" stroke="#000" stroke-width="1.8" />
<line x1="67.10" y1="508.14" x2="63.50" y2="508.14" stroke="#000" stroke-width="1.8" />
<line x1="485.00" y1="508.14" x2="481.00" y2="508.14" stroke="#000" stroke-width="1.8" />
<line x1="67.10" y1="497.92" x2="63.50" y2="497.92" stroke="#000" stroke-width="1.8" />
<line x1="485.00" y1="497.92" x2="481.00" y2="497.92" stroke="#000" stroke-width="1.8" />
<line x1="67.10" y1="487.70" x2="60.70" y2="487.70" stroke="#000" stroke-width="1.8" />
<line x1="485.00" y1="487.70" x2="478.00" y2="487.70" stroke="#000" stroke-width="1.8" />
<line x1="67.10" y1="477.48" x2="63.50" y2="477.48" stroke="#000" stroke-width="1.8" />
<line x1="485.00" y1="477.48" x2="481.00" y2="477.48" stroke="#000" stroke-width="1.8" />
<line x1="67.10" y1="467.26" x2="63.50" y2="467.26" stroke="#000" stroke-width="1.8" />
<line x1="485.00" y1="467.26" x2="481.00" y2="467.26" stroke="#000" stroke-width="1.8" />
<line x1="67.10" y1="457.04" x2="63.50" y2="457.04" stroke="#000" stroke-width="1.8" />
<line x1="485.00" y1="457.04" x2="481.00" y2="457.04" stroke="#000" stroke-width="1.8" />
<line x1="67.10" y1="446.82" x2="63.50" y2="446.82" stroke="#000" stroke-width="1.8" />
<line x1="485.00" y1="446.82" x2="481.00" y2="446.82" stroke="#000" stroke-width="1.8" />
<line x1="67.10" y1="436.60" x2="60.70" y2="436.60" stroke="#000" stroke-width="1.8" />
<line x1="485.00" y1="436.60" x2="478.00" y2="436.60" stroke="#000" stroke-width="1.8" />
<line x1="67.10" y1="426.38" x2="63.50" y2="426.38" stroke="#000" stroke-width="1.8" />
<line x1="485.00" y1="426.38" x2="481.00" y2="426.38" stroke="#000" stroke-width="1.8" />
<line x1="67.10" y1="416.16" x2="63.50" y2="416.16" stroke="#000" stroke-width="1.8" />
<line x1="485.00" y1="416.16" x2="481.00" y2="416.16" stroke="#000" stroke-width="1.8" />
<text transform="translate(24.08,645.48)" font-size="14.40" text-anchor="start">0.000</text>
<text transform="translate(24.08,594.38)" font-size="14.40" text-anchor="start">0.100</text>
<text transform="translate(24.08,543.28)" font-size="14.40" text-anchor="start">0.200</text>
<text transform="translate(24.08,492.18)" font-size="14.40" text-anchor="start">0.300</text>
<text transform="translate(24.08,441.08)" font-size="14.40" text-anchor="start">0.400</text>
<text transform="translate(11.40,568.38) rotate(-90)" font-size="14.60" text-anchor="start">&#916;A<tspan font-size="9.7" dy="5.7">426nm</tspan></text>
<text transform="translate(437.56,457.22) scale(1,0.970)" font-size="25.30" text-anchor="start">(b)</text>
<circle cx="96.80" cy="436.82" r="3.0" fill="#fff" stroke="#0000ff" stroke-width="2.15"/><circle cx="96.80" cy="436.82" r="0.85" fill="#0000ff"/>
<circle cx="102.45" cy="438.30" r="3.0" fill="#fff" stroke="#0000ff" stroke-width="2.15"/><circle cx="102.45" cy="438.30" r="0.85" fill="#0000ff"/>
<circle cx="108.10" cy="431.19" r="3.0" fill="#fff" stroke="#0000ff" stroke-width="2.15"/><circle cx="108.10" cy="431.19" r="0.85" fill="#0000ff"/>
<circle cx="113.75" cy="436.97" r="3.0" fill="#fff" stroke="#0000ff" stroke-width="2.15"/><circle cx="113.75" cy="436.97" r="0.85" fill="#0000ff"/>
<circle cx="119.40" cy="435.37" r="3.0" fill="#fff" stroke="#0000ff" stroke-width="2.15"/><circle cx="119.40" cy="435.37" r="0.85" fill="#0000ff"/>
<circle cx="125.05" cy="436.84" r="3.0" fill="#fff" stroke="#0000ff" stroke-width="2.15"/><circle cx="125.05" cy="436.84" r="0.85" fill="#0000ff"/>
<circle cx="130.70" cy="438.75" r="3.0" fill="#fff" stroke="#0000ff" stroke-width="2.15"/><circle cx="130.70" cy="438.75" r="0.85" fill="#0000ff"/>
<circle cx="136.35" cy="439.37" r="3.0" fill="#fff" stroke="#0000ff" stroke-width="2.15"/><circle cx="136.35" cy="439.37" r="0.85" fill="#0000ff"/>
<circle cx="142.00" cy="443.34" r="3.0" fill="#fff" stroke="#0000ff" stroke-width="2.15"/><circle cx="142.00" cy="443.34" r="0.85" fill="#0000ff"/>
<circle cx="147.65" cy="448.25" r="3.0" fill="#fff" stroke="#0000ff" stroke-width="2.15"/><circle cx="147.65" cy="448.25" r="0.85" fill="#0000ff"/>
<circle cx="153.30" cy="450.55" r="3.0" fill="#fff" stroke="#0000ff" stroke-width="2.15"/><circle cx="153.30" cy="450.55" r="0.85" fill="#0000ff"/>
<circle cx="158.95" cy="454.68" r="3.0" fill="#fff" stroke="#0000ff" stroke-width="2.15"/><circle cx="158.95" cy="454.68" r="0.85" fill="#0000ff"/>
<circle cx="164.60" cy="457.55" r="3.0" fill="#fff" stroke="#0000ff" stroke-width="2.15"/><circle cx="164.60" cy="457.55" r="0.85" fill="#0000ff"/>
<circle cx="170.25" cy="463.47" r="3.0" fill="#fff" stroke="#0000ff" stroke-width="2.15"/><circle cx="170.25" cy="463.47" r="0.85" fill="#0000ff"/>
<circle cx="175.90" cy="463.72" r="3.0" fill="#fff" stroke="#0000ff" stroke-width="2.15"/><circle cx="175.90" cy="463.72" r="0.85" fill="#0000ff"/>
<circle cx="181.55" cy="466.11" r="3.0" fill="#fff" stroke="#0000ff" stroke-width="2.15"/><circle cx="181.55" cy="466.11" r="0.85" fill="#0000ff"/>
<circle cx="187.20" cy="468.12" r="3.0" fill="#fff" stroke="#0000ff" stroke-width="2.15"/><circle cx="187.20" cy="468.12" r="0.85" fill="#0000ff"/>
<circle cx="192.85" cy="470.28" r="3.0" fill="#fff" stroke="#0000ff" stroke-width="2.15"/><circle cx="192.85" cy="470.28" r="0.85" fill="#0000ff"/>
<circle cx="198.50" cy="473.51" r="3.0" fill="#fff" stroke="#0000ff" stroke-width="2.15"/><circle cx="198.50" cy="473.51" r="0.85" fill="#0000ff"/>
<circle cx="204.15" cy="476.55" r="3.0" fill="#fff" stroke="#0000ff" stroke-width="2.15"/><circle cx="204.15" cy="476.55" r="0.85" fill="#0000ff"/>
<circle cx="209.80" cy="476.67" r="3.0" fill="#fff" stroke="#0000ff" stroke-width="2.15"/><circle cx="209.80" cy="476.67" r="0.85" fill="#0000ff"/>
<circle cx="215.45" cy="480.54" r="3.0" fill="#fff" stroke="#0000ff" stroke-width="2.15"/><circle cx="215.45" cy="480.54" r="0.85" fill="#0000ff"/>
<circle cx="221.10" cy="481.23" r="3.0" fill="#fff" stroke="#0000ff" stroke-width="2.15"/><circle cx="221.10" cy="481.23" r="0.85" fill="#0000ff"/>
<circle cx="226.75" cy="485.74" r="3.0" fill="#fff" stroke="#0000ff" stroke-width="2.15"/><circle cx="226.75" cy="485.74" r="0.85" fill="#0000ff"/>
<circle cx="232.40" cy="489.15" r="3.0" fill="#fff" stroke="#0000ff" stroke-width="2.15"/><circle cx="232.40" cy="489.15" r="0.85" fill="#0000ff"/>
<circle cx="238.05" cy="495.99" r="3.0" fill="#fff" stroke="#0000ff" stroke-width="2.15"/><circle cx="238.05" cy="495.99" r="0.85" fill="#0000ff"/>
<circle cx="243.70" cy="503.59" r="3.0" fill="#fff" stroke="#0000ff" stroke-width="2.15"/><circle cx="243.70" cy="503.59" r="0.85" fill="#0000ff"/>
<circle cx="249.35" cy="510.23" r="3.0" fill="#fff" stroke="#0000ff" stroke-width="2.15"/><circle cx="249.35" cy="510.23" r="0.85" fill="#0000ff"/>
<circle cx="255.00" cy="516.65" r="3.0" fill="#fff" stroke="#0000ff" stroke-width="2.15"/><circle cx="255.00" cy="516.65" r="0.85" fill="#0000ff"/>
<circle cx="260.65" cy="521.38" r="3.0" fill="#fff" stroke="#0000ff" stroke-width="2.15"/><circle cx="260.65" cy="521.38" r="0.85" fill="#0000ff"/>
<circle cx="266.30" cy="526.68" r="3.0" fill="#fff" stroke="#0000ff" stroke-width="2.15"/><circle cx="266.30" cy="526.68" r="0.85" fill="#0000ff"/>
<circle cx="271.95" cy="531.31" r="3.0" fill="#fff" stroke="#0000ff" stroke-width="2.15"/><circle cx="271.95" cy="531.31" r="0.85" fill="#0000ff"/>
<circle cx="277.60" cy="536.55" r="3.0" fill="#fff" stroke="#0000ff" stroke-width="2.15"/><circle cx="277.60" cy="536.55" r="0.85" fill="#0000ff"/>
<circle cx="283.25" cy="541.68" r="3.0" fill="#fff" stroke="#0000ff" stroke-width="2.15"/><circle cx="283.25" cy="541.68" r="0.85" fill="#0000ff"/>
<circle cx="288.90" cy="547.58" r="3.0" fill="#fff" stroke="#0000ff" stroke-width="2.15"/><circle cx="288.90" cy="547.58" r="0.85" fill="#0000ff"/>
<circle cx="294.55" cy="554.42" r="3.0" fill="#fff" stroke="#0000ff" stroke-width="2.15"/><circle cx="294.55" cy="554.42" r="0.85" fill="#0000ff"/>
<circle cx="300.20" cy="561.73" r="3.0" fill="#fff" stroke="#0000ff" stroke-width="2.15"/><circle cx="300.20" cy="561.73" r="0.85" fill="#0000ff"/>
<circle cx="305.85" cy="567.69" r="3.0" fill="#fff" stroke="#0000ff" stroke-width="2.15"/><circle cx="305.85" cy="567.69" r="0.85" fill="#0000ff"/>
<circle cx="311.50" cy="572.95" r="3.0" fill="#fff" stroke="#0000ff" stroke-width="2.15"/><circle cx="311.50" cy="572.95" r="0.85" fill="#0000ff"/>
<circle cx="317.15" cy="577.88" r="3.0" fill="#fff" stroke="#0000ff" stroke-width="2.15"/><circle cx="317.15" cy="577.88" r="0.85" fill="#0000ff"/>
<circle cx="322.80" cy="582.22" r="3.0" fill="#fff" stroke="#0000ff" stroke-width="2.15"/><circle cx="322.80" cy="582.22" r="0.85" fill="#0000ff"/>
<circle cx="328.45" cy="586.74" r="3.0" fill="#fff" stroke="#0000ff" stroke-width="2.15"/><circle cx="328.45" cy="586.74" r="0.85" fill="#0000ff"/>
<circle cx="334.10" cy="591.41" r="3.0" fill="#fff" stroke="#0000ff" stroke-width="2.15"/><circle cx="334.10" cy="591.41" r="0.85" fill="#0000ff"/>
<circle cx="339.75" cy="595.45" r="3.0" fill="#fff" stroke="#0000ff" stroke-width="2.15"/><circle cx="339.75" cy="595.45" r="0.85" fill="#0000ff"/>
<circle cx="345.40" cy="600.14" r="3.0" fill="#fff" stroke="#0000ff" stroke-width="2.15"/><circle cx="345.40" cy="600.14" r="0.85" fill="#0000ff"/>
<circle cx="351.05" cy="604.51" r="3.0" fill="#fff" stroke="#0000ff" stroke-width="2.15"/><circle cx="351.05" cy="604.51" r="0.85" fill="#0000ff"/>
<circle cx="356.70" cy="607.78" r="3.0" fill="#fff" stroke="#0000ff" stroke-width="2.15"/><circle cx="356.70" cy="607.78" r="0.85" fill="#0000ff"/>
<circle cx="362.35" cy="611.11" r="3.0" fill="#fff" stroke="#0000ff" stroke-width="2.15"/><circle cx="362.35" cy="611.11" r="0.85" fill="#0000ff"/>
<circle cx="368.00" cy="613.87" r="3.0" fill="#fff" stroke="#0000ff" stroke-width="2.15"/><circle cx="368.00" cy="613.87" r="0.85" fill="#0000ff"/>
<circle cx="373.65" cy="616.30" r="3.0" fill="#fff" stroke="#0000ff" stroke-width="2.15"/><circle cx="373.65" cy="616.30" r="0.85" fill="#0000ff"/>
<circle cx="379.30" cy="618.78" r="3.0" fill="#fff" stroke="#0000ff" stroke-width="2.15"/><circle cx="379.30" cy="618.78" r="0.85" fill="#0000ff"/>
<circle cx="384.95" cy="620.68" r="3.0" fill="#fff" stroke="#0000ff" stroke-width="2.15"/><circle cx="384.95" cy="620.68" r="0.85" fill="#0000ff"/>
<circle cx="390.60" cy="620.99" r="3.0" fill="#fff" stroke="#0000ff" stroke-width="2.15"/><circle cx="390.60" cy="620.99" r="0.85" fill="#0000ff"/>
<circle cx="396.25" cy="623.19" r="3.0" fill="#fff" stroke="#0000ff" stroke-width="2.15"/><circle cx="396.25" cy="623.19" r="0.85" fill="#0000ff"/>
<circle cx="401.90" cy="624.50" r="3.0" fill="#fff" stroke="#0000ff" stroke-width="2.15"/><circle cx="401.90" cy="624.50" r="0.85" fill="#0000ff"/>
<circle cx="407.55" cy="626.38" r="3.0" fill="#fff" stroke="#0000ff" stroke-width="2.15"/><circle cx="407.55" cy="626.38" r="0.85" fill="#0000ff"/>
<circle cx="413.20" cy="629.05" r="3.0" fill="#fff" stroke="#0000ff" stroke-width="2.15"/><circle cx="413.20" cy="629.05" r="0.85" fill="#0000ff"/>
<circle cx="418.85" cy="630.64" r="3.0" fill="#fff" stroke="#0000ff" stroke-width="2.15"/><circle cx="418.85" cy="630.64" r="0.85" fill="#0000ff"/>
<circle cx="424.50" cy="631.68" r="3.0" fill="#fff" stroke="#0000ff" stroke-width="2.15"/><circle cx="424.50" cy="631.68" r="0.85" fill="#0000ff"/>
<circle cx="430.15" cy="633.81" r="3.0" fill="#fff" stroke="#0000ff" stroke-width="2.15"/><circle cx="430.15" cy="633.81" r="0.85" fill="#0000ff"/>
<circle cx="435.80" cy="635.07" r="3.0" fill="#fff" stroke="#0000ff" stroke-width="2.15"/><circle cx="435.80" cy="635.07" r="0.85" fill="#0000ff"/>
<circle cx="441.45" cy="637.03" r="3.0" fill="#fff" stroke="#0000ff" stroke-width="2.15"/><circle cx="441.45" cy="637.03" r="0.85" fill="#0000ff"/>
<circle cx="447.10" cy="638.21" r="3.0" fill="#fff" stroke="#0000ff" stroke-width="2.15"/><circle cx="447.10" cy="638.21" r="0.85" fill="#0000ff"/>
<circle cx="452.75" cy="639.31" r="3.0" fill="#fff" stroke="#0000ff" stroke-width="2.15"/><circle cx="452.75" cy="639.31" r="0.85" fill="#0000ff"/>
<circle cx="79.70" cy="436.98" r="3.0" fill="#fff" stroke="#008000" stroke-width="2.15"/><circle cx="79.70" cy="436.98" r="0.85" fill="#008000"/>
<circle cx="85.35" cy="436.36" r="3.0" fill="#fff" stroke="#008000" stroke-width="2.15"/><circle cx="85.35" cy="436.36" r="0.85" fill="#008000"/>
<circle cx="91.00" cy="437.40" r="3.0" fill="#fff" stroke="#008000" stroke-width="2.15"/><circle cx="91.00" cy="437.40" r="0.85" fill="#008000"/>
<circle cx="96.65" cy="438.83" r="3.0" fill="#fff" stroke="#008000" stroke-width="2.15"/><circle cx="96.65" cy="438.83" r="0.85" fill="#008000"/>
<circle cx="102.30" cy="439.69" r="3.0" fill="#fff" stroke="#008000" stroke-width="2.15"/><circle cx="102.30" cy="439.69" r="0.85" fill="#008000"/>
<circle cx="107.95" cy="440.14" r="3.0" fill="#fff" stroke="#008000" stroke-width="2.15"/><circle cx="107.95" cy="440.14" r="0.85" fill="#008000"/>
<circle cx="113.61" cy="441.39" r="3.0" fill="#fff" stroke="#008000" stroke-width="2.15"/><circle cx="113.61" cy="441.39" r="0.85" fill="#008000"/>
<circle cx="119.26" cy="441.79" r="3.0" fill="#fff" stroke="#008000" stroke-width="2.15"/><circle cx="119.26" cy="441.79" r="0.85" fill="#008000"/>
<circle cx="124.91" cy="443.96" r="3.0" fill="#fff" stroke="#008000" stroke-width="2.15"/><circle cx="124.91" cy="443.96" r="0.85" fill="#008000"/>
<circle cx="130.56" cy="445.04" r="3.0" fill="#fff" stroke="#008000" stroke-width="2.15"/><circle cx="130.56" cy="445.04" r="0.85" fill="#008000"/>
<circle cx="136.21" cy="447.38" r="3.0" fill="#fff" stroke="#008000" stroke-width="2.15"/><circle cx="136.21" cy="447.38" r="0.85" fill="#008000"/>
<circle cx="141.86" cy="448.87" r="3.0" fill="#fff" stroke="#008000" stroke-width="2.15"/><circle cx="141.86" cy="448.87" r="0.85" fill="#008000"/>
<circle cx="147.51" cy="456.92" r="3.0" fill="#fff" stroke="#008000" stroke-width="2.15"/><circle cx="147.51" cy="456.92" r="0.85" fill="#008000"/>
<circle cx="153.16" cy="454.20" r="3.0" fill="#fff" stroke="#008000" stroke-width="2.15"/><circle cx="153.16" cy="454.20" r="0.85" fill="#008000"/>
<circle cx="158.81" cy="460.08" r="3.0" fill="#fff" stroke="#008000" stroke-width="2.15"/><circle cx="158.81" cy="460.08" r="0.85" fill="#008000"/>
<circle cx="164.47" cy="463.93" r="3.0" fill="#fff" stroke="#008000" stroke-width="2.15"/><circle cx="164.47" cy="463.93" r="0.85" fill="#008000"/>
<circle cx="170.12" cy="468.15" r="3.0" fill="#fff" stroke="#008000" stroke-width="2.15"/><circle cx="170.12" cy="468.15" r="0.85" fill="#008000"/>
<circle cx="175.77" cy="472.09" r="3.0" fill="#fff" stroke="#008000" stroke-width="2.15"/><circle cx="175.77" cy="472.09" r="0.85" fill="#008000"/>
<circle cx="181.42" cy="475.80" r="3.0" fill="#fff" stroke="#008000" stroke-width="2.15"/><circle cx="181.42" cy="475.80" r="0.85" fill="#008000"/>
<circle cx="187.07" cy="479.08" r="3.0" fill="#fff" stroke="#008000" stroke-width="2.15"/><circle cx="187.07" cy="479.08" r="0.85" fill="#008000"/>
<circle cx="192.72" cy="485.38" r="3.0" fill="#fff" stroke="#008000" stroke-width="2.15"/><circle cx="192.72" cy="485.38" r="0.85" fill="#008000"/>
<circle cx="198.37" cy="482.78" r="3.0" fill="#fff" stroke="#008000" stroke-width="2.15"/><circle cx="198.37" cy="482.78" r="0.85" fill="#008000"/>
<circle cx="204.02" cy="488.07" r="3.0" fill="#fff" stroke="#008000" stroke-width="2.15"/><circle cx="204.02" cy="488.07" r="0.85" fill="#008000"/>
<circle cx="209.67" cy="488.88" r="3.0" fill="#fff" stroke="#008000" stroke-width="2.15"/><circle cx="209.67" cy="488.88" r="0.85" fill="#008000"/>
<circle cx="215.32" cy="495.16" r="3.0" fill="#fff" stroke="#008000" stroke-width="2.15"/><circle cx="215.32" cy="495.16" r="0.85" fill="#008000"/>
<circle cx="220.98" cy="497.71" r="3.0" fill="#fff" stroke="#008000" stroke-width="2.15"/><circle cx="220.98" cy="497.71" r="0.85" fill="#008000"/>
<circle cx="226.63" cy="504.43" r="3.0" fill="#fff" stroke="#008000" stroke-width="2.15"/><circle cx="226.63" cy="504.43" r="0.85" fill="#008000"/>
<circle cx="232.28" cy="514.93" r="3.0" fill="#fff" stroke="#008000" stroke-width="2.15"/><circle cx="232.28" cy="514.93" r="0.85" fill="#008000"/>
<circle cx="237.93" cy="526.32" r="3.0" fill="#fff" stroke="#008000" stroke-width="2.15"/><circle cx="237.93" cy="526.32" r="0.85" fill="#008000"/>
<circle cx="243.58" cy="538.45" r="3.0" fill="#fff" stroke="#008000" stroke-width="2.15"/><circle cx="243.58" cy="538.45" r="0.85" fill="#008000"/>
<circle cx="249.23" cy="546.38" r="3.0" fill="#fff" stroke="#008000" stroke-width="2.15"/><circle cx="249.23" cy="546.38" r="0.85" fill="#008000"/>
<circle cx="254.88" cy="553.17" r="3.0" fill="#fff" stroke="#008000" stroke-width="2.15"/><circle cx="254.88" cy="553.17" r="0.85" fill="#008000"/>
<circle cx="260.53" cy="561.60" r="3.0" fill="#fff" stroke="#008000" stroke-width="2.15"/><circle cx="260.53" cy="561.60" r="0.85" fill="#008000"/>
<circle cx="266.18" cy="568.72" r="3.0" fill="#fff" stroke="#008000" stroke-width="2.15"/><circle cx="266.18" cy="568.72" r="0.85" fill="#008000"/>
<circle cx="271.83" cy="575.56" r="3.0" fill="#fff" stroke="#008000" stroke-width="2.15"/><circle cx="271.83" cy="575.56" r="0.85" fill="#008000"/>
<circle cx="277.49" cy="580.77" r="3.0" fill="#fff" stroke="#008000" stroke-width="2.15"/><circle cx="277.49" cy="580.77" r="0.85" fill="#008000"/>
<circle cx="283.14" cy="587.84" r="3.0" fill="#fff" stroke="#008000" stroke-width="2.15"/><circle cx="283.14" cy="587.84" r="0.85" fill="#008000"/>
<circle cx="288.79" cy="592.62" r="3.0" fill="#fff" stroke="#008000" stroke-width="2.15"/><circle cx="288.79" cy="592.62" r="0.85" fill="#008000"/>
<circle cx="294.44" cy="597.81" r="3.0" fill="#fff" stroke="#008000" stroke-width="2.15"/><circle cx="294.44" cy="597.81" r="0.85" fill="#008000"/>
<circle cx="300.09" cy="602.68" r="3.0" fill="#fff" stroke="#008000" stroke-width="2.15"/><circle cx="300.09" cy="602.68" r="0.85" fill="#008000"/>
<circle cx="305.74" cy="605.96" r="3.0" fill="#fff" stroke="#008000" stroke-width="2.15"/><circle cx="305.74" cy="605.96" r="0.85" fill="#008000"/>
<circle cx="311.39" cy="610.07" r="3.0" fill="#fff" stroke="#008000" stroke-width="2.15"/><circle cx="311.39" cy="610.07" r="0.85" fill="#008000"/>
<circle cx="317.04" cy="611.27" r="3.0" fill="#fff" stroke="#008000" stroke-width="2.15"/><circle cx="317.04" cy="611.27" r="0.85" fill="#008000"/>
<circle cx="322.69" cy="615.79" r="3.0" fill="#fff" stroke="#008000" stroke-width="2.15"/><circle cx="322.69" cy="615.79" r="0.85" fill="#008000"/>
<circle cx="328.34" cy="621.77" r="3.0" fill="#fff" stroke="#008000" stroke-width="2.15"/><circle cx="328.34" cy="621.77" r="0.85" fill="#008000"/>
<circle cx="334.00" cy="625.76" r="3.0" fill="#fff" stroke="#008000" stroke-width="2.15"/><circle cx="334.00" cy="625.76" r="0.85" fill="#008000"/>
<circle cx="339.65" cy="630.01" r="3.0" fill="#fff" stroke="#008000" stroke-width="2.15"/><circle cx="339.65" cy="630.01" r="0.85" fill="#008000"/>
<circle cx="345.30" cy="632.84" r="3.0" fill="#fff" stroke="#008000" stroke-width="2.15"/><circle cx="345.30" cy="632.84" r="0.85" fill="#008000"/>
<circle cx="350.95" cy="636.08" r="3.0" fill="#fff" stroke="#008000" stroke-width="2.15"/><circle cx="350.95" cy="636.08" r="0.85" fill="#008000"/>
<circle cx="356.60" cy="637.50" r="3.0" fill="#fff" stroke="#008000" stroke-width="2.15"/><circle cx="356.60" cy="637.50" r="0.85" fill="#008000"/>
<circle cx="362.25" cy="639.52" r="3.0" fill="#fff" stroke="#008000" stroke-width="2.15"/><circle cx="362.25" cy="639.52" r="0.85" fill="#008000"/>
<circle cx="367.90" cy="639.94" r="3.0" fill="#fff" stroke="#008000" stroke-width="2.15"/><circle cx="367.90" cy="639.94" r="0.85" fill="#008000"/>
<circle cx="373.55" cy="640.11" r="3.0" fill="#fff" stroke="#008000" stroke-width="2.15"/><circle cx="373.55" cy="640.11" r="0.85" fill="#008000"/>
<circle cx="379.20" cy="640.56" r="3.0" fill="#fff" stroke="#008000" stroke-width="2.15"/><circle cx="379.20" cy="640.56" r="0.85" fill="#008000"/>
<circle cx="384.85" cy="640.68" r="3.0" fill="#fff" stroke="#008000" stroke-width="2.15"/><circle cx="384.85" cy="640.68" r="0.85" fill="#008000"/>
<circle cx="390.50" cy="640.67" r="3.0" fill="#fff" stroke="#008000" stroke-width="2.15"/><circle cx="390.50" cy="640.67" r="0.85" fill="#008000"/>
<circle cx="396.16" cy="640.83" r="3.0" fill="#fff" stroke="#008000" stroke-width="2.15"/><circle cx="396.16" cy="640.83" r="0.85" fill="#008000"/>
<circle cx="401.81" cy="641.52" r="3.0" fill="#fff" stroke="#008000" stroke-width="2.15"/><circle cx="401.81" cy="641.52" r="0.85" fill="#008000"/>
<circle cx="407.46" cy="641.50" r="3.0" fill="#fff" stroke="#008000" stroke-width="2.15"/><circle cx="407.46" cy="641.50" r="0.85" fill="#008000"/>
<circle cx="413.11" cy="641.77" r="3.0" fill="#fff" stroke="#008000" stroke-width="2.15"/><circle cx="413.11" cy="641.77" r="0.85" fill="#008000"/>
<circle cx="418.76" cy="640.81" r="3.0" fill="#fff" stroke="#008000" stroke-width="2.15"/><circle cx="418.76" cy="640.81" r="0.85" fill="#008000"/>
<circle cx="424.41" cy="640.49" r="3.0" fill="#fff" stroke="#008000" stroke-width="2.15"/><circle cx="424.41" cy="640.49" r="0.85" fill="#008000"/>
<circle cx="430.06" cy="640.32" r="3.0" fill="#fff" stroke="#008000" stroke-width="2.15"/><circle cx="430.06" cy="640.32" r="0.85" fill="#008000"/>
<circle cx="435.71" cy="640.13" r="3.0" fill="#fff" stroke="#008000" stroke-width="2.15"/><circle cx="435.71" cy="640.13" r="0.85" fill="#008000"/>
<circle cx="441.36" cy="641.08" r="3.0" fill="#fff" stroke="#008000" stroke-width="2.15"/><circle cx="441.36" cy="641.08" r="0.85" fill="#008000"/>
<circle cx="447.01" cy="641.00" r="3.0" fill="#fff" stroke="#008000" stroke-width="2.15"/><circle cx="447.01" cy="641.00" r="0.85" fill="#008000"/>
<circle cx="452.67" cy="641.01" r="3.0" fill="#fff" stroke="#008000" stroke-width="2.15"/><circle cx="452.67" cy="641.01" r="0.85" fill="#008000"/>
<circle cx="458.32" cy="641.20" r="3.0" fill="#fff" stroke="#008000" stroke-width="2.15"/><circle cx="458.32" cy="641.20" r="0.85" fill="#008000"/>
<polyline points="96.00,434.53 97.65,434.77 99.29,434.96 100.94,435.11 102.59,435.22 104.24,435.30 105.88,435.36 107.53,435.41 109.18,435.46 110.82,435.52 112.47,435.58 114.12,435.67 115.76,435.80 117.41,435.96 119.06,436.16 120.71,436.40 122.35,436.69 124.00,437.03 125.65,437.41 127.29,437.84 128.94,438.33 130.59,438.86 132.23,439.45 133.88,440.09 135.53,440.79 137.18,441.55 138.82,442.36 140.47,443.23 142.12,444.15 143.76,445.12 145.41,446.12 147.06,447.15 148.71,448.21 150.35,449.28 152.00,450.37 153.65,451.46 155.29,452.55 156.94,453.64 158.59,454.71 160.23,455.76 161.88,456.78 163.53,457.78 165.18,458.76 166.82,459.71 168.47,460.63 170.12,461.52 171.76,462.38 173.41,463.22 175.06,464.02 176.70,464.80 178.35,465.55 180.00,466.26 181.65,466.95 183.29,467.60 184.94,468.22 186.59,468.82 188.23,469.40 189.88,469.96 191.53,470.51 193.17,471.05 194.82,471.59 196.47,472.12 198.12,472.66 199.76,473.20 201.41,473.75 203.06,474.32 204.70,474.90 206.35,475.51 208.00,476.14 209.65,476.80 211.29,477.49 212.94,478.22 214.59,479.00 216.23,479.81 217.88,480.68 219.53,481.60 221.17,482.57 222.82,483.61 224.47,484.71 226.12,485.88 227.76,487.12 229.41,488.43 231.06,489.80 232.70,491.23 234.35,492.72 236.00,494.26 237.64,495.85 239.29,497.49 240.94,499.16 242.59,500.88 244.23,502.63 245.88,504.41 247.53,506.22 249.17,508.05 250.82,509.90 252.47,511.77 254.12,513.64 255.76,515.52 257.41,517.40 259.06,519.27 260.70,521.14 262.35,522.99 264.00,524.82 265.64,526.62 267.29,528.40 268.94,530.14 270.59,531.85 272.23,533.51 273.88,535.14 275.53,536.74 277.17,538.31 278.82,539.86 280.47,541.39 282.11,542.90 283.76,544.40 285.41,545.90 287.06,547.39 288.70,548.88 290.35,550.38 292.00,551.89 293.64,553.41 295.29,554.95 296.94,556.50 298.58,558.06 300.23,559.63 301.88,561.21 303.53,562.81 305.17,564.41 306.82,566.03 308.47,567.66 310.11,569.29 311.76,570.94 313.41,572.59 315.06,574.25 316.70,575.92 318.35,577.58 320.00,579.25 321.64,580.90 323.29,582.55 324.94,584.17 326.58,585.77 328.23,587.35 329.88,588.90 331.53,590.41 333.17,591.88 334.82,593.31 336.47,594.69 338.11,596.02 339.76,597.30 341.41,598.53 343.05,599.71 344.70,600.85 346.35,601.95 348.00,603.01 349.64,604.03 351.29,605.02 352.94,605.96 354.58,606.88 356.23,607.77 357.88,608.62 359.53,609.45 361.17,610.25 362.82,611.03 364.47,611.78 366.11,612.51 367.76,613.22 369.41,613.91 371.05,614.59 372.70,615.24 374.35,615.89 376.00,616.51 377.64,617.13 379.29,617.73 380.94,618.33 382.58,618.91 384.23,619.49 385.88,620.06 387.52,620.63 389.17,621.19 390.82,621.74 392.47,622.29 394.11,622.83 395.76,623.38 397.41,623.92 399.05,624.46 400.70,624.99 402.35,625.53 403.99,626.07 405.64,626.61 407.29,627.15 408.94,627.69 410.58,628.22 412.23,628.75 413.88,629.28 415.52,629.81 417.17,630.33 418.82,630.84 420.47,631.35 422.11,631.85 423.76,632.35 425.41,632.83 427.05,633.31 428.70,633.78 430.35,634.24 431.99,634.69 433.64,635.13 435.29,635.55 436.94,635.97 438.58,636.37 440.23,636.75 441.88,637.13 443.52,637.49 445.17,637.83 446.82,638.16 448.46,638.47 450.11,638.79 451.76,639.11 453.41,639.44 455.05,639.81 456.70,640.20" fill="none" stroke="#ff0000" stroke-width="2.5" stroke-linejoin="round" stroke-linecap="round" />
<polyline points="79.30,438.12 81.03,437.98 82.76,437.90 84.49,437.87 86.22,437.90 87.95,437.96 89.68,438.06 91.41,438.19 93.14,438.34 94.88,438.51 96.61,438.68 98.34,438.86 100.07,439.03 101.80,439.20 103.53,439.37 105.26,439.53 106.99,439.71 108.72,439.89 110.45,440.08 112.18,440.30 113.91,440.53 115.64,440.79 117.37,441.08 119.10,441.40 120.83,441.76 122.56,442.16 124.30,442.60 126.03,443.08 127.76,443.61 129.49,444.18 131.22,444.80 132.95,445.47 134.68,446.18 136.41,446.95 138.14,447.76 139.87,448.63 141.60,449.55 143.33,450.53 145.06,451.55 146.79,452.63 148.52,453.75 150.25,454.91 151.98,456.10 153.72,457.32 155.45,458.56 157.18,459.82 158.91,461.09 160.64,462.37 162.37,463.65 164.10,464.92 165.83,466.18 167.56,467.43 169.29,468.67 171.02,469.88 172.75,471.06 174.48,472.22 176.21,473.34 177.94,474.43 179.67,475.48 181.41,476.49 183.14,477.46 184.87,478.37 186.60,479.23 188.33,480.04 190.06,480.79 191.79,481.51 193.52,482.20 195.25,482.88 196.98,483.55 198.71,484.24 200.44,484.94 202.17,485.68 203.90,486.47 205.63,487.31 207.36,488.22 209.09,489.22 210.83,490.30 212.56,491.49 214.29,492.79 216.02,494.20 217.75,495.73 219.48,497.40 221.21,499.20 222.94,501.15 224.67,503.24 226.40,505.50 228.13,507.93 229.86,510.52 231.59,513.30 233.32,516.26 235.05,519.37 236.78,522.59 238.51,525.91 240.25,529.29 241.98,532.70 243.71,536.10 245.44,539.48 247.17,542.79 248.90,546.01 250.63,549.10 252.36,552.04 254.09,554.80 255.82,557.37 257.55,559.76 259.28,561.99 261.01,564.09 262.74,566.07 264.47,567.95 266.20,569.74 267.93,571.47 269.67,573.15 271.40,574.80 273.13,576.45 274.86,578.10 276.59,579.77 278.32,581.48 280.05,583.19 281.78,584.92 283.51,586.65 285.24,588.38 286.97,590.09 288.70,591.78 290.43,593.44 292.16,595.06 293.89,596.64 295.62,598.17 297.35,599.63 299.09,601.03 300.82,602.37 302.55,603.66 304.28,604.90 306.01,606.11 307.74,607.30 309.47,608.47 311.20,609.63 312.93,610.79 314.66,611.95 316.39,613.14 318.12,614.34 319.85,615.58 321.58,616.86 323.31,618.16 325.04,619.48 326.77,620.81 328.51,622.13 330.24,623.44 331.97,624.72 333.70,625.98 335.43,627.19 337.16,628.35 338.89,629.44 340.62,630.47 342.35,631.41 344.08,632.28 345.81,633.06 347.54,633.78 349.27,634.42 351.00,635.01 352.73,635.54 354.46,636.02 356.19,636.46 357.93,636.86 359.66,637.23 361.39,637.56 363.12,637.88 364.85,638.17 366.58,638.45 368.31,638.71 370.04,638.95 371.77,639.18 373.50,639.39 375.23,639.58 376.96,639.75 378.69,639.91 380.42,640.05 382.15,640.17 383.88,640.28 385.62,640.36 387.35,640.43 389.08,640.49 390.81,640.53 392.54,640.57 394.27,640.59 396.00,640.61 397.73,640.62 399.46,640.63 401.19,640.64 402.92,640.65 404.65,640.67 406.38,640.69 408.11,640.72 409.84,640.76 411.57,640.80 413.30,640.85 415.04,640.90 416.77,640.96 418.50,641.01 420.23,641.06 421.96,641.11 423.69,641.15 425.42,641.19 427.15,641.21 428.88,641.23 430.61,641.23 432.34,641.22 434.07,641.20 435.80,641.18 437.53,641.15 439.26,641.12 440.99,641.08 442.72,641.05 444.46,641.02 446.19,641.00 447.92,640.99 449.65,640.99 451.38,641.00 453.11,641.02 454.84,641.06 456.57,641.12 458.30,641.20" fill="none" stroke="#ff0000" stroke-width="2.5" stroke-linejoin="round" stroke-linecap="round" />
<circle cx="96.40" cy="535.10" r="3.4" fill="#fff" stroke="#0000ff" stroke-width="2.1"/><circle cx="96.40" cy="535.10" r="0.85" fill="#0000ff"/>
<circle cx="96.60" cy="556.20" r="3.4" fill="#fff" stroke="#008000" stroke-width="2.1"/><circle cx="96.60" cy="556.20" r="0.85" fill="#008000"/>
<line x1="80.00" y1="577.30" x2="112.40" y2="577.30" stroke="#ff0000" stroke-width="2.4" />
<text transform="translate(117.50,540.90) scale(1,0.950)" font-size="18.80" text-anchor="start">With cyanide</text>
<text transform="translate(117.50,561.50) scale(1,0.950)" font-size="18.70" text-anchor="start">Without cyanide</text>
<text transform="translate(119.74,582.80) scale(1,0.950)" font-size="19.10" text-anchor="start">Calculated fits</text>
<rect x="67.1" y="673.4" width="417.90" height="62.40" fill="none" stroke="#000" stroke-width="2"/>
<line x1="67.29" y1="735.80" x2="67.29" y2="739.60" stroke="#000" stroke-width="1.8" />
<line x1="67.29" y1="673.40" x2="67.29" y2="676.80" stroke="#000" stroke-width="1.8" />
<line x1="78.57" y1="735.80" x2="78.57" y2="739.60" stroke="#000" stroke-width="1.8" />
<line x1="78.57" y1="673.40" x2="78.57" y2="676.80" stroke="#000" stroke-width="1.8" />
<line x1="89.85" y1="735.80" x2="89.85" y2="742.40" stroke="#000" stroke-width="1.8" />
<line x1="89.85" y1="673.40" x2="89.85" y2="679.70" stroke="#000" stroke-width="1.8" />
<line x1="101.13" y1="735.80" x2="101.13" y2="739.60" stroke="#000" stroke-width="1.8" />
<line x1="101.13" y1="673.40" x2="101.13" y2="676.80" stroke="#000" stroke-width="1.8" />
<line x1="112.41" y1="735.80" x2="112.41" y2="739.60" stroke="#000" stroke-width="1.8" />
<line x1="112.41" y1="673.40" x2="112.41" y2="676.80" stroke="#000" stroke-width="1.8" />
<line x1="123.69" y1="735.80" x2="123.69" y2="739.60" stroke="#000" stroke-width="1.8" />
<line x1="123.69" y1="673.40" x2="123.69" y2="676.80" stroke="#000" stroke-width="1.8" />
<line x1="134.97" y1="735.80" x2="134.97" y2="739.60" stroke="#000" stroke-width="1.8" />
<line x1="134.97" y1="673.40" x2="134.97" y2="676.80" stroke="#000" stroke-width="1.8" />
<line x1="146.25" y1="735.80" x2="146.25" y2="742.40" stroke="#000" stroke-width="1.8" />
<line x1="146.25" y1="673.40" x2="146.25" y2="679.70" stroke="#000" stroke-width="1.8" />
<line x1="157.53" y1="735.80" x2="157.53" y2="739.60" stroke="#000" stroke-width="1.8" />
<line x1="157.53" y1="673.40" x2="157.53" y2="676.80" stroke="#000" stroke-width="1.8" />
<line x1="168.81" y1="735.80" x2="168.81" y2="739.60" stroke="#000" stroke-width="1.8" />
<line x1="168.81" y1="673.40" x2="168.81" y2="676.80" stroke="#000" stroke-width="1.8" />
<line x1="180.09" y1="735.80" x2="180.09" y2="739.60" stroke="#000" stroke-width="1.8" />
<line x1="180.09" y1="673.40" x2="180.09" y2="676.80" stroke="#000" stroke-width="1.8" />
<line x1="191.37" y1="735.80" x2="191.37" y2="739.60" stroke="#000" stroke-width="1.8" />
<line x1="191.37" y1="673.40" x2="191.37" y2="676.80" stroke="#000" stroke-width="1.8" />
<line x1="202.65" y1="735.80" x2="202.65" y2="742.40" stroke="#000" stroke-width="1.8" />
<line x1="202.65" y1="673.40" x2="202.65" y2="679.70" stroke="#000" stroke-width="1.8" />
<line x1="213.93" y1="735.80" x2="213.93" y2="739.60" stroke="#000" stroke-width="1.8" />
<line x1="213.93" y1="673.40" x2="213.93" y2="676.80" stroke="#000" stroke-width="1.8" />
<line x1="225.21" y1="735.80" x2="225.21" y2="739.60" stroke="#000" stroke-width="1.8" />
<line x1="225.21" y1="673.40" x2="225.21" y2="676.80" stroke="#000" stroke-width="1.8" />
<line x1="236.49" y1="735.80" x2="236.49" y2="739.60" stroke="#000" stroke-width="1.8" />
<line x1="236.49" y1="673.40" x2="236.49" y2="676.80" stroke="#000" stroke-width="1.8" />
<line x1="247.77" y1="735.80" x2="247.77" y2="739.60" stroke="#000" stroke-width="1.8" />
<line x1="247.77" y1="673.40" x2="247.77" y2="676.80" stroke="#000" stroke-width="1.8" />
<line x1="259.05" y1="735.80" x2="259.05" y2="742.40" stroke="#000" stroke-width="1.8" />
<line x1="259.05" y1="673.40" x2="259.05" y2="679.70" stroke="#000" stroke-width="1.8" />
<line x1="270.33" y1="735.80" x2="270.33" y2="739.60" stroke="#000" stroke-width="1.8" />
<line x1="270.33" y1="673.40" x2="270.33" y2="676.80" stroke="#000" stroke-width="1.8" />
<line x1="281.61" y1="735.80" x2="281.61" y2="739.60" stroke="#000" stroke-width="1.8" />
<line x1="281.61" y1="673.40" x2="281.61" y2="676.80" stroke="#000" stroke-width="1.8" />
<line x1="292.89" y1="735.80" x2="292.89" y2="739.60" stroke="#000" stroke-width="1.8" />
<line x1="292.89" y1="673.40" x2="292.89" y2="676.80" stroke="#000" stroke-width="1.8" />
<line x1="304.17" y1="735.80" x2="304.17" y2="739.60" stroke="#000" stroke-width="1.8" />
<line x1="304.17" y1="673.40" x2="304.17" y2="676.80" stroke="#000" stroke-width="1.8" />
<line x1="315.45" y1="735.80" x2="315.45" y2="742.40" stroke="#000" stroke-width="1.8" />
<line x1="315.45" y1="673.40" x2="315.45" y2="679.70" stroke="#000" stroke-width="1.8" />
<line x1="326.73" y1="735.80" x2="326.73" y2="739.60" stroke="#000" stroke-width="1.8" />
<line x1="326.73" y1="673.40" x2="326.73" y2="676.80" stroke="#000" stroke-width="1.8" />
<line x1="338.01" y1="735.80" x2="338.01" y2="739.60" stroke="#000" stroke-width="1.8" />
<line x1="338.01" y1="673.40" x2="338.01" y2="676.80" stroke="#000" stroke-width="1.8" />
<line x1="349.29" y1="735.80" x2="349.29" y2="739.60" stroke="#000" stroke-width="1.8" />
<line x1="349.29" y1="673.40" x2="349.29" y2="676.80" stroke="#000" stroke-width="1.8" />
<line x1="360.57" y1="735.80" x2="360.57" y2="739.60" stroke="#000" stroke-width="1.8" />
<line x1="360.57" y1="673.40" x2="360.57" y2="676.80" stroke="#000" stroke-width="1.8" />
<line x1="371.85" y1="735.80" x2="371.85" y2="742.40" stroke="#000" stroke-width="1.8" />
<line x1="371.85" y1="673.40" x2="371.85" y2="679.70" stroke="#000" stroke-width="1.8" />
<line x1="383.13" y1="735.80" x2="383.13" y2="739.60" stroke="#000" stroke-width="1.8" />
<line x1="383.13" y1="673.40" x2="383.13" y2="676.80" stroke="#000" stroke-width="1.8" />
<line x1="394.41" y1="735.80" x2="394.41" y2="739.60" stroke="#000" stroke-width="1.8" />
<line x1="394.41" y1="673.40" x2="394.41" y2="676.80" stroke="#000" stroke-width="1.8" />
<line x1="405.69" y1="735.80" x2="405.69" y2="739.60" stroke="#000" stroke-width="1.8" />
<line x1="405.69" y1="673.40" x2="405.69" y2="676.80" stroke="#000" stroke-width="1.8" />
<line x1="416.97" y1="735.80" x2="416.97" y2="739.60" stroke="#000" stroke-width="1.8" />
<line x1="416.97" y1="673.40" x2="416.97" y2="676.80" stroke="#000" stroke-width="1.8" />
<line x1="428.25" y1="735.80" x2="428.25" y2="742.40" stroke="#000" stroke-width="1.8" />
<line x1="428.25" y1="673.40" x2="428.25" y2="679.70" stroke="#000" stroke-width="1.8" />
<line x1="439.53" y1="735.80" x2="439.53" y2="739.60" stroke="#000" stroke-width="1.8" />
<line x1="439.53" y1="673.40" x2="439.53" y2="676.80" stroke="#000" stroke-width="1.8" />
<line x1="450.81" y1="735.80" x2="450.81" y2="739.60" stroke="#000" stroke-width="1.8" />
<line x1="450.81" y1="673.40" x2="450.81" y2="676.80" stroke="#000" stroke-width="1.8" />
<line x1="462.09" y1="735.80" x2="462.09" y2="739.60" stroke="#000" stroke-width="1.8" />
<line x1="462.09" y1="673.40" x2="462.09" y2="676.80" stroke="#000" stroke-width="1.8" />
<line x1="473.37" y1="735.80" x2="473.37" y2="739.60" stroke="#000" stroke-width="1.8" />
<line x1="473.37" y1="673.40" x2="473.37" y2="676.80" stroke="#000" stroke-width="1.8" />
<line x1="484.65" y1="735.80" x2="484.65" y2="742.40" stroke="#000" stroke-width="1.8" />
<line x1="484.65" y1="673.40" x2="484.65" y2="679.70" stroke="#000" stroke-width="1.8" />
<line x1="67.10" y1="735.80" x2="60.30" y2="735.80" stroke="#000" stroke-width="1.8" />
<line x1="485.00" y1="735.80" x2="478.00" y2="735.80" stroke="#000" stroke-width="1.8" />
<line x1="67.10" y1="704.60" x2="60.30" y2="704.60" stroke="#000" stroke-width="1.8" />
<line x1="485.00" y1="704.60" x2="478.00" y2="704.60" stroke="#000" stroke-width="1.8" />
<line x1="67.10" y1="673.40" x2="60.30" y2="673.40" stroke="#000" stroke-width="1.8" />
<line x1="485.00" y1="673.40" x2="478.00" y2="673.40" stroke="#000" stroke-width="1.8" />
<text transform="translate(55.60,678.23) scale(1,1.100)" font-size="15.20" text-anchor="end">0.01</text>
<text transform="translate(55.60,709.43) scale(1,1.100)" font-size="15.20" text-anchor="end">0.00</text>
<text transform="translate(55.60,740.63) scale(1,1.100)" font-size="15.20" text-anchor="end">-0.01</text>
<text transform="translate(76.83,758.75) scale(1,1.070)" font-size="15.60" text-anchor="start">-0.5</text>
<text transform="translate(133.03,758.75) scale(1,1.070)" font-size="15.60" text-anchor="start">-0.4</text>
<text transform="translate(189.63,758.75) scale(1,1.070)" font-size="15.60" text-anchor="start">-0.3</text>
<text transform="translate(246.14,758.75) scale(1,1.070)" font-size="15.60" text-anchor="start">-0.2</text>
<text transform="translate(302.58,758.75) scale(1,1.070)" font-size="15.60" text-anchor="start">-0.1</text>
<text transform="translate(361.40,758.75) scale(1,1.070)" font-size="15.60" text-anchor="start">0.0</text>
<text transform="translate(417.96,758.75) scale(1,1.070)" font-size="15.60" text-anchor="start">0.1</text>
<text transform="translate(474.32,758.75) scale(1,1.070)" font-size="15.60" text-anchor="start">0.2</text>
<text transform="translate(13.00,733.49) rotate(-90) scale(1,1.030)" font-size="16.20" text-anchor="start">Resid</text>
<text transform="translate(207.64,784.50)" font-size="15.75" text-anchor="start">Applied Potential (V)</text>
<text transform="translate(440.12,710.28) scale(1,0.940)" font-size="26.30" text-anchor="start">(c)</text>
<polyline points="79.30,698.10 85.60,695.20 91.00,700.00 96.30,705.40 102.60,707.40 108.20,706.60 113.30,710.30 119.60,706.60 126.10,713.10 131.80,706.00 137.40,708.30 142.20,698.90 147.90,730.10 153.00,687.60 158.70,698.90 164.30,696.90 170.00,697.90 175.70,698.70 181.30,700.30 187.00,702.00 193.00,727.10 198.30,696.30 204.00,714.10 209.70,700.30 215.30,714.10 221.50,695.50 227.50,696.30 232.30,707.60 238.00,714.10 243.70,720.60 249.60,702.00 255.30,686.20 260.90,693.30 266.60,698.90 272.30,707.40 277.10,704.60 282.70,714.50 289.30,708.80 294.90,708.80 299.70,710.30 305.40,704.60 311.10,707.40 316.70,690.40 321.80,691.30 328.10,703.20 333.70,701.80 339.90,705.40 345.60,704.60 351.30,711.70 356.90,710.30 362.60,715.90 368.30,712.20 373.90,708.80 379.60,708.30 385.30,706.60 390.90,705.40 396.60,706.00 402.30,710.30 407.90,709.40 413.60,710.30 419.30,702.60 424.90,700.30 430.60,698.90 435.40,698.10 437.70,698.90" fill="none" stroke="#008000" stroke-width="2.4" stroke-linejoin="round" stroke-linecap="butt" />
<polyline points="96.30,717.30 103.40,724.40 108.50,674.80 114.20,715.90 119.60,698.90 126.10,702.60 130.90,703.70 136.00,693.30 142.20,700.30 147.90,709.40 153.00,700.30 158.70,703.20 165.20,698.90 170.60,717.30 175.70,700.30 181.30,699.80 187.00,698.90 192.70,700.30 198.30,708.80 204.00,716.20 209.90,703.20 215.60,711.70 221.30,696.10 226.90,701.00 232.60,693.30 238.30,703.50 243.90,714.30 249.60,716.80 255.30,716.80 260.90,706.00 266.60,700.30 272.30,692.40 282.70,690.40 288.40,694.70 294.10,704.60 299.70,717.30 305.40,720.70 311.10,718.80 316.70,714.50 322.40,706.00 328.10,699.80 333.70,697.00 339.90,693.30 345.60,697.50 351.30,702.60 356.90,703.20 362.60,706.60 368.30,708.00 373.90,708.80 379.60,711.10 385.30,710.30 390.10,700.30 396.60,702.60 402.30,698.90 407.10,698.90 412.70,704.60 419.30,703.20 424.90,698.90 430.60,702.60 435.40,700.30 437.70,703.70" fill="none" stroke="#0000ff" stroke-width="2.4" stroke-linejoin="round" stroke-linecap="butt" />
</svg>
</body></html>
